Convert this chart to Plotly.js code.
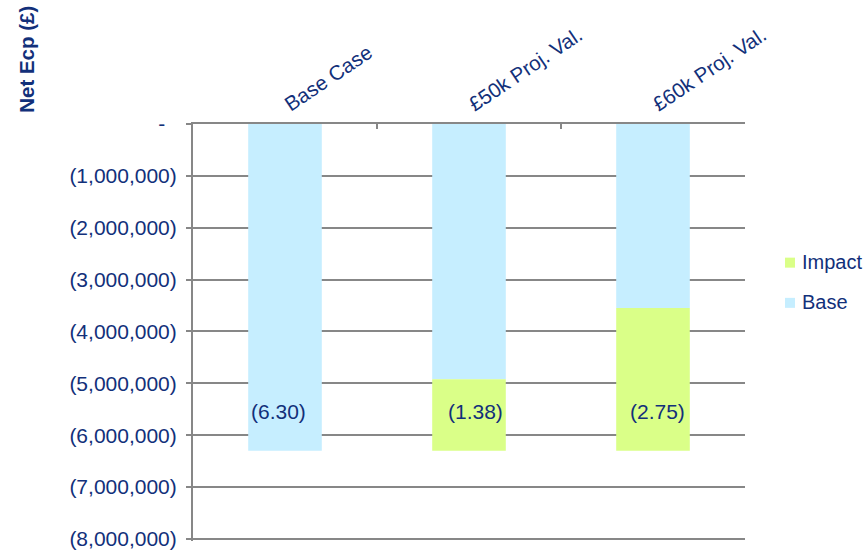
<!DOCTYPE html>
<html>
<head>
<meta charset="utf-8">
<script src="https://cdn.plot.ly/plotly-3.0.1.min.js"></script>
<style>html,body{margin:0;padding:0;background:#fff;}#chart{width:866px;height:553px;}</style>
</head>
<body>
<div id="chart"></div>
<script>
const categories = ["Base Case", "£50k Proj. Val.", "£60k Proj. Val."];
const baseValues = [-6300000, -4920000, -3550000];
const impactValues = [0, -1380000, -2750000];
const labelTexts = ["(6.30)", "(1.38)", "(2.75)"];
const labelY = [-5550000, -5550000, -5550000];
const yTickVals = [0, -1000000, -2000000, -3000000, -4000000, -5000000, -6000000, -7000000, -8000000];
const yTickText = ["-\u00a0\u00a0", "(1,000,000)", "(2,000,000)", "(3,000,000)", "(4,000,000)", "(5,000,000)", "(6,000,000)", "(7,000,000)", "(8,000,000)"];

const navy = "#12307A";
const grid = "#878787";
const FONT = "Liberation Sans, Arial, sans-serif";
const labelShift = [-7, 6, 4];
const baseColor = "#C6EEFF";
const impactColor = "#DAFF88";

const traces = [
  {type: "bar", name: "Base", x: categories, y: baseValues, marker: {color: baseColor}, hoverinfo: "skip", showlegend: false},
  {type: "bar", name: "Impact", x: categories, y: impactValues, marker: {color: impactColor}, hoverinfo: "skip", showlegend: false}
];

const annotations = labelTexts.map((t, i) => ({
  x: categories[i], y: labelY[i], xref: "x", yref: "y", text: t, showarrow: false,
  xshift: labelShift[i], font: {family: FONT, size: 21, color: navy}
}));
annotations.push({
  xref: "paper", yref: "paper", x: -0.3007, y: 1.154, text: "<b>Net Ecp (£)</b>", textangle: -90,
  showarrow: false, xanchor: "center", yanchor: "middle", font: {family: FONT, size: 20.5, color: navy}
});

// manual legend (Impact above Base, as in the reference)
const legendItems = [
  {name: traces[1].name, color: traces[1].marker.color, yc: 0.6675},
  {name: traces[0].name, color: traces[0].marker.color, yc: 0.5711}
];
const shapes = [];
legendItems.forEach(it => {
  shapes.push({type: "rect", xref: "paper", yref: "paper", x0: 1.0725, x1: 1.0906,
    y0: it.yc - 0.012, y1: it.yc + 0.012, fillcolor: it.color, line: {width: 0}});
  annotations.push({xref: "paper", yref: "paper", x: 1.0996, y: it.yc + 0.002, xanchor: "left", yanchor: "middle",
    text: it.name, showarrow: false, font: {family: FONT, size: 20, color: navy}});
});

const layout = {
  width: 866, height: 553,
  margin: {l: 193, r: 121, t: 124, b: 12},
  paper_bgcolor: "#fff", plot_bgcolor: "#fff",
  barmode: "relative", bargap: 0.6,
  font: {family: FONT, size: 21, color: navy},
  showlegend: false,
  xaxis: {
    type: "category", side: "top", tickangle: -34, tickson: "boundaries",
    ticks: "inside", ticklen: 5, tickwidth: 2, tickcolor: grid,
    showline: true, linecolor: grid, linewidth: 2, showgrid: false,
    tickfont: {family: FONT, size: 20.5, color: navy}
  },
  yaxis: {
    range: [-8040000, 0], tickvals: yTickVals, ticktext: yTickText,
    ticks: "outside", ticklen: 5, tickwidth: 2, tickcolor: grid, ticklabelstandoff: 5,
    showline: true, linecolor: grid, linewidth: 2,
    showgrid: true, gridcolor: grid, gridwidth: 2, zeroline: false,
    tickfont: {family: FONT, size: 21, color: navy}
  },
  shapes: shapes,
  annotations: annotations
};

Plotly.newPlot("chart", traces, layout, {displayModeBar: false, staticPlot: true});
</script>
</body>
</html>
